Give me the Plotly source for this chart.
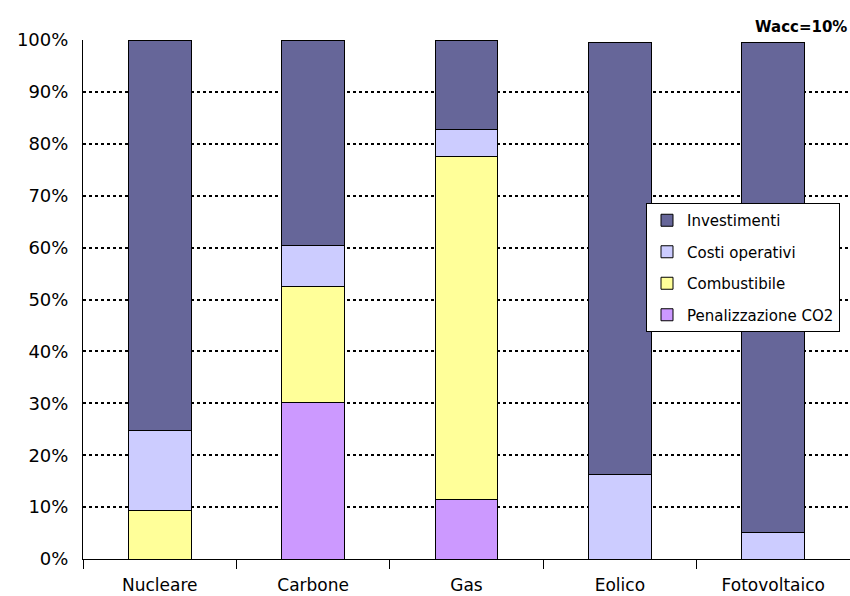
import plotly.graph_objects as go

categories = ["Nucleare", "Carbone", "Gas", "Eolico", "Fotovoltaico"]
penalizzazione_co2 = [0.0, 30.2, 11.4, 0.0, 0.0]
combustibile = [9.4, 22.4, 66.2, 0.0, 0.0]
costi_operativi = [15.3, 7.9, 5.1, 16.2, 5.2]
investimenti = [75.3, 39.5, 17.3, 83.4, 94.4]

series = [
    ("Penalizzazione CO2", penalizzazione_co2, "#CC99FF", 4),
    ("Combustibile", combustibile, "#FFFF99", 3),
    ("Costi operativi", costi_operativi, "#CCCCFF", 2),
    ("Investimenti", investimenti, "#666699", 1),
]

fig = go.Figure()
for name, vals, col, rank in series:
    fig.add_trace(go.Bar(
        x=categories, y=vals, name=name, legendgroup=name, legendrank=rank,
        marker=dict(color=col, line=dict(color="black", width=1)),
        width=0.41,
    ))

font = "DejaVu Sans, sans-serif"
fig.update_layout(
    barmode="stack",
    width=850, height=596,
    margin=dict(l=83, r=0, t=40, b=37),
    paper_bgcolor="white", plot_bgcolor="white",
    font=dict(family=font, size=17, color="black"),
    showlegend=True,
    legend=dict(
        traceorder="grouped",
        x=(646 - 83) / 767, y=(559 - 203) / 519,
        xanchor="left", yanchor="top",
        bgcolor="white", bordercolor="black", borderwidth=1,
        font=dict(family=font, size=15),
        itemwidth=30, tracegroupgap=9,
    ),
    xaxis=dict(
        showline=True, linecolor="black", linewidth=1,
        ticks="outside", tickson="boundaries", ticklen=9, tickcolor="black",
        showgrid=False, range=[-0.5, 4.5],
        tickfont=dict(family=font, size=17),
        ticklabelstandoff=11,
    ),
    yaxis=dict(
        range=[0, 100], dtick=10, ticksuffix="%",
        showline=True, linecolor="black", linewidth=1,
        ticks="", ticklabelstandoff=10,
        showgrid=True, gridcolor="black", griddash="3px,3px", gridwidth=1.5,
        zeroline=False,
        tickfont=dict(family=font, size=18),
    ),
    annotations=[dict(
        text="<b>Wacc=10%</b>", xref="paper", yref="paper",
        x=1, y=1, xanchor="right", yanchor="bottom",
        xshift=-1, yshift=2,
        showarrow=False, font=dict(family=font, size=15, color="black"),
    )],
)

fig.write_html("out.html")
